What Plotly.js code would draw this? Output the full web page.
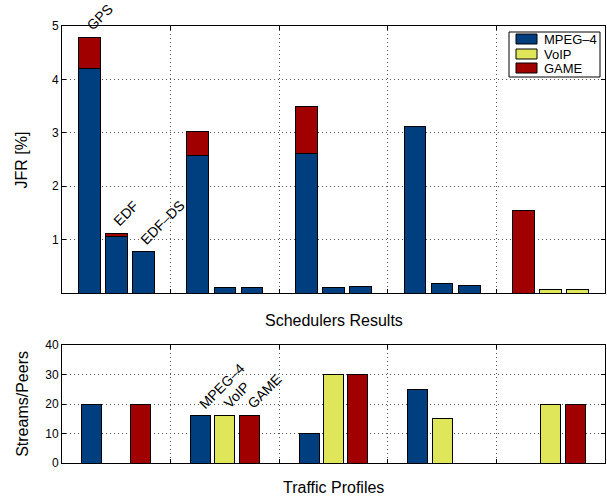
<!DOCTYPE html>
<html>
<head>
<meta charset="utf-8">
<script src="https://cdn.plot.ly/plotly-3.0.1.min.js"></script>
<style>html,body{margin:0;padding:0;background:#fff;}#chart{width:607px;height:497px;}</style>
</head>
<body>
<div id="chart"></div>
<script>
// ---- Data ----
const trafficNames = ['MPEG–4', 'VoIP', 'GAME'];
const schedulerNames = ['GPS', 'EDF', 'EDF–DS'];
const groupIdx = [1, 2, 3, 4, 5];

// Top: JFR [%] per group, three schedulers per group (GPS, EDF, EDF-DS)
const jfrMPEG = [4.21, 1.06, 0.77,  2.57, 0.11, 0.11,  2.61, 0.11, 0.13,  3.11, 0.17, 0.15,  0, 0, 0];
const jfrVoIP = [0, 0, 0,           0, 0, 0,           0, 0, 0,           0, 0, 0,           0, 0.06, 0.06];
const jfrGAME = [0.57, 0.06, 0,     0.46, 0, 0,        0.88, 0, 0,        0, 0, 0,           1.54, 0, 0];

// Bottom: Streams/Peers per traffic profile
const streamsMPEG = [20, 16, 10, 25, 0];
const streamsVoIP = [0, 16, 30, 15, 20];
const streamsGAME = [20, 16, 30, 0, 20];

// ---- Styling ----
const colors = ['#003f7f', '#dfe65a', '#a10000'];
const FONT = 'Liberation Sans, Arial, Helvetica, sans-serif';
const W = 607, H = 497, M = {l: 62, r: 2, t: 26, b: 34};
const PW = W - M.l - M.r, PH = H - M.t - M.b;
const px2x = p => (p - M.l) / PW;
const px2y = p => (H - M.b - p) / PH;

const nz = v => (v === 0 ? null : v);

// top positions: 3 bars per group
const topX = [];
groupIdx.forEach(g => { for (let s = 0; s < 3; s++) topX.push(g + (s - 1) * 0.25); });
const topW = 0.2;

const topSeries = [jfrMPEG, jfrVoIP, jfrGAME];
const traces = topSeries.map((vals, i) => ({
  type: 'bar', x: topX, y: vals.map(nz), width: topW,
  name: trafficNames[i], xaxis: 'x', yaxis: 'y', showlegend: false,
  marker: {color: colors[i], line: {color: '#000', width: 1}},
  hoverinfo: 'skip'
}));

// bottom: grouped bars
const botOff = 0.224, botW = 0.184;
const botSeries = [streamsMPEG, streamsVoIP, streamsGAME];
botSeries.forEach((vals, i) => {
  traces.push({
    type: 'bar', x: groupIdx.map(g => g + (i - 1) * botOff), y: vals.map(nz), width: botW,
    name: trafficNames[i], xaxis: 'x2', yaxis: 'y2', showlegend: false,
    marker: {color: colors[i], line: {color: '#000', width: 1}},
    hoverinfo: 'skip'
  });
});

// annotations
const annotations = [];
for (let s = 0; s < 3; s++) {
  const tot = jfrMPEG[s] + jfrVoIP[s] + jfrGAME[s];
  annotations.push({
    x: topX[s], y: tot, xref: 'x', yref: 'y', text: schedulerNames[s],
    textangle: -45, showarrow: false, xanchor: 'left', yanchor: 'bottom', borderpad: 0,
    xshift: -7, yshift: 3, font: {family: FONT, size: 14, color: '#000'}
  });
}
for (let i = 0; i < 3; i++) {
  annotations.push({
    x: 2 + (i - 1) * botOff, y: botSeries[i][1], xref: 'x2', yref: 'y2', text: trafficNames[i],
    textangle: -45, showarrow: false, xanchor: 'left', yanchor: 'bottom', borderpad: 0,
    xshift: -6, yshift: 3, font: {family: FONT, size: 14, color: '#000'}
  });
}
// axis titles
annotations.push({x: 0.5, y: 0.327, xref: 'paper', yref: 'paper', text: 'Schedulers Results',
  showarrow: false, xanchor: 'center', yanchor: 'middle', font: {family: FONT, size: 16, color: '#000'}});
annotations.push({x: 0.5, y: -0.055, xref: 'paper', yref: 'paper', text: 'Traffic Profiles',
  showarrow: false, xanchor: 'center', yanchor: 'middle', font: {family: FONT, size: 16, color: '#000'}});
annotations.push({x: -0.074, y: 0.694, xref: 'paper', yref: 'paper', text: 'JFR [%]', textangle: -90,
  showarrow: false, xanchor: 'center', yanchor: 'middle', font: {family: FONT, size: 16, color: '#000'}});
annotations.push({x: -0.074, y: 0.135, xref: 'paper', yref: 'paper', text: 'Streams/Peers', textangle: -90,
  showarrow: false, xanchor: 'center', yanchor: 'middle', font: {family: FONT, size: 16, color: '#000'}});

// custom legend (box, swatches, labels)
const shapes = [{
  type: 'rect', xref: 'paper', yref: 'paper',
  x0: px2x(509), x1: px2x(600), y0: px2y(77), y1: px2y(32),
  fillcolor: '#fff', line: {color: '#000', width: 1}, layer: 'above'
}];
const rowY = [39, 54, 68];
trafficNames.forEach((name, i) => {
  shapes.push({
    type: 'rect', xref: 'paper', yref: 'paper',
    x0: px2x(516), x1: px2x(537), y0: px2y(rowY[i] + 5), y1: px2y(rowY[i] - 5),
    fillcolor: colors[i], line: {color: '#000', width: 1}, layer: 'above'
  });
  annotations.push({
    x: px2x(542), y: px2y(rowY[i]), xref: 'paper', yref: 'paper', text: name,
    showarrow: false, xanchor: 'left', yanchor: 'middle',
    font: {family: FONT, size: 13, color: '#000'}
  });
});

const xCommon = {
  range: [0.5, 5.5], tickvals: [1.5, 2.5, 3.5, 4.5], showticklabels: false,
  ticks: 'inside', ticklen: 4, tickcolor: '#000',
  showgrid: true, gridcolor: '#555', griddash: '1px,3px', gridwidth: 1,
  showline: true, linecolor: '#000', linewidth: 1, mirror: 'ticks', zeroline: false, fixedrange: true
};
const yCommon = {
  ticks: 'inside', ticklen: 4, tickcolor: '#000',
  showgrid: true, gridcolor: '#555', griddash: '1px,3px', gridwidth: 1,
  showline: true, linecolor: '#000', linewidth: 1, mirror: 'ticks', zeroline: false,
  tickfont: {family: FONT, size: 12, color: '#000'}, fixedrange: true
};

const layout = {
  width: W, height: H,
  margin: M,
  paper_bgcolor: '#fff', plot_bgcolor: '#fff',
  font: {family: FONT, size: 12, color: '#000'},
  barmode: 'stack', bargap: 0,
  showlegend: false,
  xaxis: Object.assign({}, xCommon, {domain: [0, 1], anchor: 'y'}),
  yaxis: Object.assign({}, yCommon, {domain: [0.389, 1], range: [0, 5], tickvals: [1, 2, 3, 4, 5], anchor: 'x'}),
  xaxis2: Object.assign({}, xCommon, {domain: [0, 1], anchor: 'y2'}),
  yaxis2: Object.assign({}, yCommon, {domain: [0, 0.27], range: [0, 40], tickvals: [0, 10, 20, 30, 40], anchor: 'x2'}),
  shapes: shapes,
  annotations: annotations
};

Plotly.newPlot('chart', traces, layout, {displayModeBar: false, staticPlot: true});
</script>
</body>
</html>
